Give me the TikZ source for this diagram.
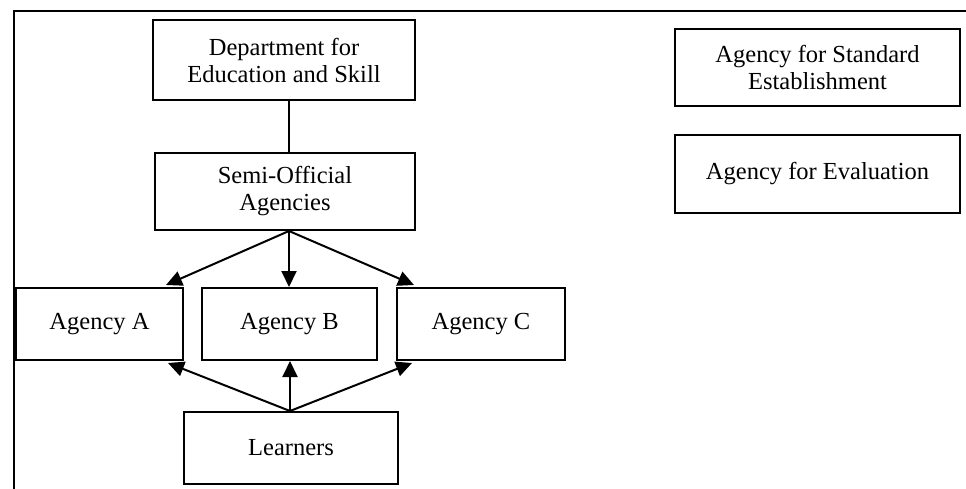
\documentclass[tikz,border=0pt]{standalone}
\usepackage{fontspec}
\setmainfont{Liberation Serif}
\usetikzlibrary{arrows.meta,calc}
\begin{document}
\begin{tikzpicture}[x=1pt,y=-1pt,
  box/.style={draw,line width=2pt,rectangle,align=center,inner sep=0pt,
    font=\fontsize{24.5}{27}\selectfont},
  link/.style={line width=2pt},
  arr/.style={link,-{Triangle[length=16pt,width=15pt]}}]
\useasboundingbox (0,0) rectangle (966,489);
% open frame: left and top edges only
\draw[line width=1.5pt] (14,489) -- (14,11) -- (966,11);

\node[box,minimum width=262pt,minimum height=80pt] (dept) at (284,60)
  {Department for\\Education and Skill};
\node[box,minimum width=260pt,minimum height=77pt] (semi) at (285,191.5)
  {Semi-Official\\Agencies};
\node[box,minimum width=167pt,minimum height=72pt] (a) at (99.5,324) {Agency A};
\node[box,minimum width=175pt,minimum height=72pt] (b) at (289.5,324) {Agency B};
\node[box,minimum width=168pt,minimum height=72pt] (c) at (481,324) {Agency C};
\node[box,minimum width=214pt,minimum height=72pt] (learn) at (291,448) {Learners};
\node[box,minimum width=285pt,minimum height=77pt] (std) at (817.5,67.5)
  {Agency for Standard\\Establishment};
\node[box,minimum width=285pt,minimum height=78pt] (eval) at (817.5,174)
  {Agency for Evaluation};

% arrow ends near the upper and lower corners of the outer agencies
\coordinate (aTop) at ($(a.north east)+(-18,-2)$);
\coordinate (cTop) at ($(c.north west)+(18,-2)$);
\coordinate (aBot) at ($(a.south east)+(-16,2)$);
\coordinate (cBot) at ($(c.south west)+(16,2)$);
\coordinate (semiOut) at ($(semi.south)+(4,0)$);
\coordinate (learnOut) at ($(learn.north)+(-1,0)$);

\draw[link] (dept.south -| semiOut) -- (semi.north -| semiOut);
\draw[arr] (semiOut) -- (aTop);
\draw[arr] (semiOut) -- (semiOut |- b.north);
\draw[arr] (semiOut) -- (cTop);
\draw[arr] (learnOut) -- (aBot);
\draw[arr] (learnOut) -- (learnOut |- b.south);
\draw[arr] (learnOut) -- (cBot);
\end{tikzpicture}
\end{document}
